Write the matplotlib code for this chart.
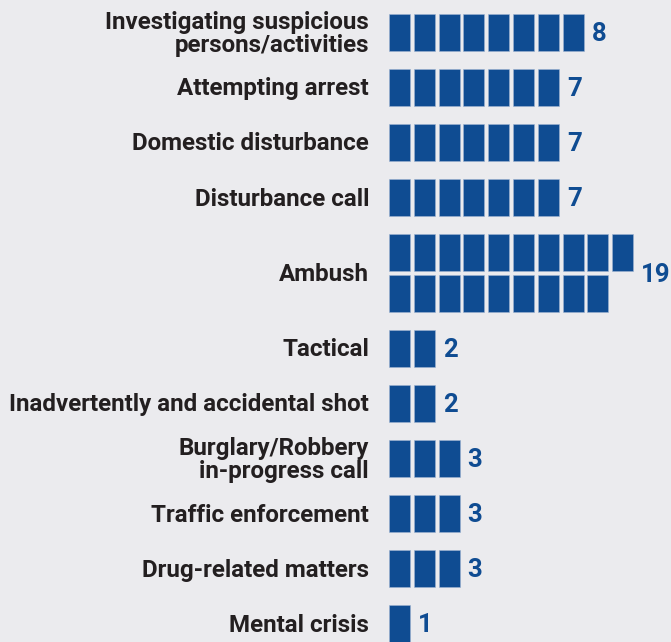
import matplotlib
matplotlib.use("Agg")
import matplotlib.pyplot as plt
from matplotlib.patches import Rectangle

categories = [
    "Investigating suspicious\npersons/activities",
    "Attempting arrest",
    "Domestic disturbance",
    "Disturbance call",
    "Ambush",
    "Tactical",
    "Inadvertently and accidental shot",
    "Burglary/Robbery\nin-progress call",
    "Traffic enforcement",
    "Drug-related matters",
    "Mental crisis",
]
values = [8, 7, 7, 7, 19, 2, 2, 3, 3, 3, 1]

PER_ROW = 10
BLUE = "#0F4C92"
TEXT = "#231F20"
BG = "#EBEBEE"

W, H = 671, 642
PITCH = 24.8          # px per block
X0 = 389              # px of first block
BLOCK_W = 21 / PITCH  # block width in block units
SUB_H = 37            # sub-row height px
SUB_GAP = 4
ROW_GAP = 18
TOP = 14

fig = plt.figure(figsize=(W / 100, H / 100), dpi=100)
fig.patch.set_facecolor(BG)
ax = fig.add_axes([0, 0, 1, 1])
ax.set_facecolor(BG)
ax.set_xlim(-X0 / PITCH, (W - X0) / PITCH)
ax.set_ylim(H, 0)
ax.axis("off")

font = "Roboto"
y = TOP
for cat, v in zip(categories, values):
    nrows = -(-v // PER_ROW)
    height = nrows * SUB_H + (nrows - 1) * SUB_GAP
    for i in range(v):
        r, c = divmod(i, PER_ROW)
        ax.add_patch(Rectangle((c, y + r * (SUB_H + SUB_GAP)), BLOCK_W, SUB_H,
                               facecolor=BLUE, edgecolor="#9FB4D2", linewidth=0.4))
    center = y + height / 2
    ax.text(-(X0 - 369) / PITCH, center + 1.5, cat, ha="right", va="center",
            fontsize=17.4, fontweight="bold", color=TEXT, family=font,
            linespacing=1.05, multialignment="right")
    ncols = min(v, PER_ROW)
    ax.text(ncols - 1 + BLOCK_W + 8 / PITCH, center + 1.5, str(v), ha="left", va="center",
            fontsize=18.5, fontweight="bold", color=BLUE, family=font)
    y += height + ROW_GAP

fig.savefig("out.png", dpi=100, facecolor=BG)
